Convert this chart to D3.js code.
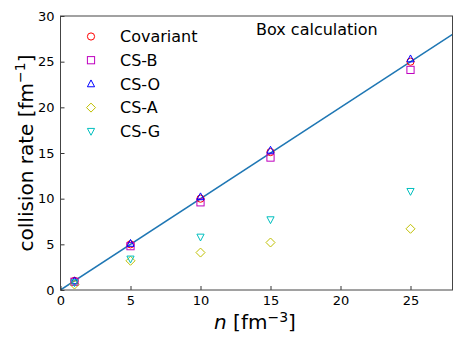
<!DOCTYPE html>
<html><head><meta charset="utf-8">
<script src="https://cdn.jsdelivr.net/npm/d3@7"></script>
<style>body{margin:0;background:#fff}text{font-family:"DejaVu Sans",sans-serif}</style>
</head><body><svg id="c" width="463" height="347"></svg>
<script>
const nValues = [1, 5, 10, 15, 25];
const covariant = [1.0, 5.0, 10.0, 15.1, 25.0];
const csB = [0.9, 4.8, 9.6, 14.5, 24.1];
const csO = [1.0, 5.1, 10.2, 15.3, 25.3];
const csA = [0.6, 3.2, 4.1, 5.2, 6.7];
const csG = [0.8, 3.4, 5.8, 7.7, 10.8];
const xTicks = [0, 5, 10, 15, 20, 25];
const yTicks = [0, 5, 10, 15, 20, 25, 30];
const lineX = [0, 28];

const series = [
  {name: "Covariant", values: covariant, color: "#ff0000", shape: "circle"},
  {name: "CS-B", values: csB, color: "#bf00bf", shape: "square"},
  {name: "CS-O", values: csO, color: "#0000ff", shape: "up"},
  {name: "CS-A", values: csA, color: "#bfbf00", shape: "diamond"},
  {name: "CS-G", values: csG, color: "#00bfbf", shape: "down"}
];

const m = {l: 60.5, r: 452.5, t: 16, b: 290};
const svg = d3.select("#c");
const x = d3.scaleLinear().domain([0, 28]).range([m.l, m.r]);
const y = d3.scaleLinear().domain([0, 30]).range([m.b, m.t]);

svg.append("defs").append("clipPath").attr("id","clip").append("rect")
  .attr("x", m.l).attr("y", m.t).attr("width", m.r-m.l).attr("height", m.b-m.t);

// line y = x
svg.append("path").attr("clip-path","url(#clip)")
  .attr("d", d3.line().x(d=>x(d)).y(d=>y(d))(lineX))
  .attr("stroke", "#1f77b4").attr("stroke-width", 1.5).attr("fill","none");

function marker(g, shape, color) {
  const s = 3.6;
  let p;
  if (shape === "circle") p = g.append("circle").attr("r", s);
  else if (shape === "square") p = g.append("rect").attr("x",-s).attr("y",-s).attr("width",2*s).attr("height",2*s);
  else if (shape === "up") p = g.append("path").attr("d", `M0,${-s*1.1}L${s},${s*0.8}L${-s},${s*0.8}Z`);
  else if (shape === "down") p = g.append("path").attr("d", `M0,${s*1.1}L${s},${-s*0.8}L${-s},${-s*0.8}Z`);
  else p = g.append("path").attr("d", `M0,${-s*1.25}L${s*1.25},0L0,${s*1.25}L${-s*1.25},0Z`);
  p.attr("fill","none").attr("stroke", color).attr("stroke-width", 1);
}

series.forEach(sr => {
  sr.values.forEach((v, i) => {
    const g = svg.append("g").attr("transform", `translate(${x(nValues[i])},${y(v)})`);
    marker(g, sr.shape, sr.color);
  });
});

// axes
const xa = svg.append("g").attr("transform", `translate(0,${m.b})`)
  .call(d3.axisBottom(x).tickValues(xTicks).tickSize(-4).tickPadding(6));
const ya = svg.append("g").attr("transform", `translate(${m.l},0)`)
  .call(d3.axisLeft(y).tickValues(yTicks).tickSize(-4).tickPadding(6));
[xa, ya].forEach(a => {
  a.select(".domain").remove();
  a.selectAll("line").attr("stroke","#000").attr("stroke-width",0.8);
  a.selectAll("text").attr("font-size", 13).attr("fill","#000").style("font-family","DejaVu Sans");
});
svg.append("rect").attr("x", m.l).attr("y", m.t).attr("width", m.r-m.l).attr("height", m.b-m.t)
  .attr("fill","none").attr("stroke","#444").attr("stroke-width",1);

// legend
series.forEach((sr, i) => {
  const yy = 36.5 + i * 23.7;
  const g = svg.append("g").attr("transform", `translate(91,${yy})`);
  marker(g, sr.shape, sr.color);
  svg.append("text").attr("x", 120).attr("y", yy + 5.8).attr("font-size", 16).text(sr.name);
});

svg.append("text").attr("x", 256).attr("y", 35).attr("font-size", 16).text("Box calculation");

// axis labels
const yl = svg.append("text").attr("transform", `translate(33,${(m.t+m.b)/2}) rotate(-90)`)
  .attr("text-anchor","middle").attr("font-size", 20);
yl.append("tspan").text("collision rate [fm");
yl.append("tspan").attr("font-size", 14).attr("dy", -8).text("−1");
yl.append("tspan").attr("dy", 8).text("]");

const xl = svg.append("text").attr("x", 255).attr("y", 329)
  .attr("text-anchor","middle").attr("font-size", 20);
xl.append("tspan").attr("font-style","italic").text("n");
xl.append("tspan").text(" [fm");
xl.append("tspan").attr("font-size", 14).attr("dy", -7).text("−3");
xl.append("tspan").attr("dy", 7).text("]");
</script></body></html>
